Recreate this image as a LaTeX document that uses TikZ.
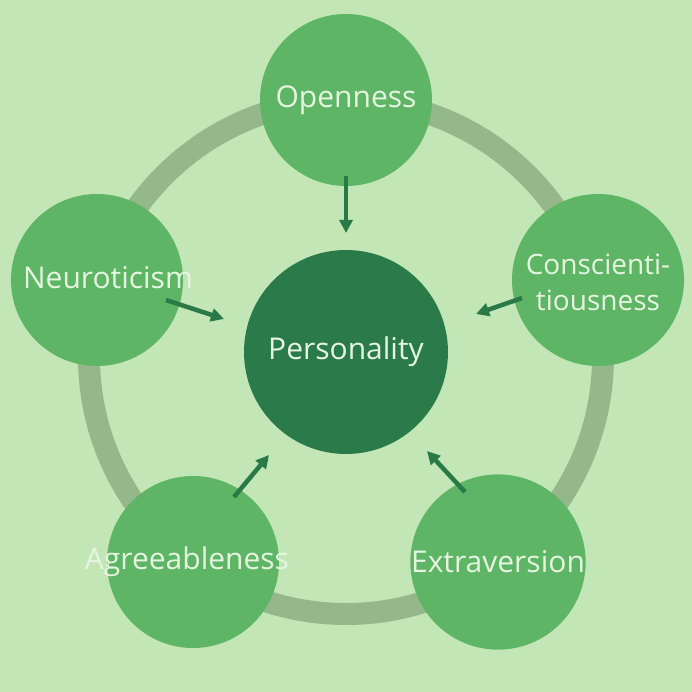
\documentclass[tikz,border=0pt]{standalone}
\usepackage{fontspec}
\setmainfont{Open Sans}
\usetikzlibrary{arrows.meta}
\definecolor{bg}{HTML}{C2E6B5}
\definecolor{ring}{HTML}{94B88A}
\definecolor{trait}{HTML}{5DB565}
\definecolor{core}{HTML}{2A7A4A}
\definecolor{txt}{HTML}{E6F5E0}
\definecolor{arr}{HTML}{2A7A48}
\begin{document}
\begin{tikzpicture}[x=1pt,y=-1pt,
  trait/.style={circle,fill=trait,minimum size=172pt,inner sep=0pt,text=txt,font=\fontsize{30}{33}\selectfont,align=center},
  arrow/.style={-{Triangle[length=13pt,width=13pt]},line width=4.5pt,draw=arr}]
\fill[bg] (0,0) rectangle (692,692);
\useasboundingbox (0,0) rectangle (692,692);
\draw[ring,line width=22pt] (346,357) circle (257);
\node[trait] (o) at (346,100) {Openness};
\node[trait] (c) at (598,280) {};
\node[text=txt,font=\fontsize{28}{36}\selectfont,align=center] at (598,282) {Conscienti-\\tiousness};
\node[trait] (e) at (498,562) {Extraversion};
\node[trait] (a) at (193,562) {};
\node[text=txt,font=\fontsize{30}{33}\selectfont] at (187,562) {Agreeableness};
\node[trait] (n) at (97,280) {};
\node[text=txt,font=\fontsize{30}{33}\selectfont] at (108,278) {Neuroticism};
\node[circle,fill=core,minimum size=204pt,text=txt,font=\fontsize{30}{33}\selectfont] (p) at (346,352) {Personality};
\coordinate (o1) at (346,176); \coordinate (o2) at (346,233);
\coordinate (c1) at (522,298); \coordinate (c2) at (476,314);
\coordinate (e1) at (465,492); \coordinate (e2) at (427,451);
\coordinate (a1) at (234,497); \coordinate (a2) at (269,455);
\coordinate (n1) at (166,300); \coordinate (n2) at (224,319);
\draw[arrow] (o1) -- (o2);
\draw[arrow] (c1) -- (c2);
\draw[arrow] (e1) -- (e2);
\draw[arrow] (a1) -- (a2);
\draw[arrow] (n1) -- (n2);
\end{tikzpicture}
\end{document}
